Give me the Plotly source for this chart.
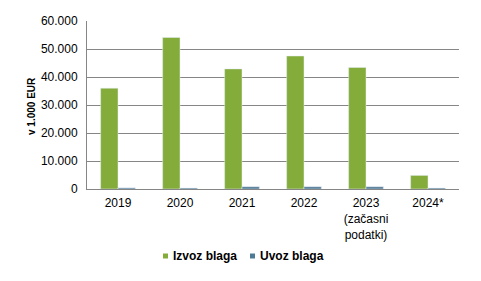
import plotly.graph_objects as go

categories = ["2019", "2020", "2021", "2022", "2023<br>(začasni<br>podatki)", "2024*"]
izvoz = [36000, 54100, 42900, 47500, 43400, 4850]
uvoz = [400, 350, 800, 800, 800, 350]
series_names = ["Izvoz blaga", "Uvoz blaga"]
y_ticks = [0, 10000, 20000, 30000, 40000, 50000, 60000]
y_labels = ["0", "10.000", "20.000", "30.000", "40.000", "50.000", "60.000"]
y_title = "v 1.000 EUR"

GREEN = "#84AC3A"
BLUE = "#4F7A94"
FONT = "Liberation Sans, Arial, sans-serif"

fig = go.Figure()
fig.add_bar(x=categories, y=izvoz, marker_color=GREEN, showlegend=False, name=series_names[0])
fig.add_bar(x=categories, y=uvoz, marker_color=BLUE, showlegend=False, name=series_names[1])

W, H = 481, 281
ml, mr, mt, mb = 87, 22, 21, 92
pw, ph = W - ml - mr, H - mt - mb
def px(x): return (x - ml) / pw
def py(y): return (H - mb - y) / ph

# compact legend (square + label)
legend_items = [(series_names[0], GREEN, 163), (series_names[1], BLUE, 250)]
for name, color, x0 in legend_items:
    fig.add_shape(type="rect", xref="paper", yref="paper",
                  x0=px(x0), x1=px(x0 + 5), y0=py(258.5), y1=py(253.5),
                  fillcolor=color, line_width=0)
    fig.add_annotation(xref="paper", yref="paper", x=px(x0 + 8), y=py(256),
                       xanchor="left", yanchor="middle", showarrow=False,
                       text=f"<b>{name}</b>", font=dict(size=12, color="black"))

# y-axis title
fig.add_annotation(xref="paper", yref="paper", x=px(31), y=py(106),
                   xanchor="center", yanchor="middle", showarrow=False, textangle=-90,
                   text=f"<b>{y_title}</b>", font=dict(size=10, color="black"))

fig.update_layout(
    width=W, height=H,
    margin=dict(l=ml, r=mr, t=mt, b=mb),
    paper_bgcolor="white", plot_bgcolor="white",
    barmode="group", bargap=0.44, bargroupgap=0,
    font=dict(family=FONT, size=12, color="black"),
    showlegend=False,
    xaxis=dict(type="category", showline=True, linecolor="#868686", linewidth=1,
               showgrid=False, ticks="", tickfont=dict(size=12), ticklabelstandoff=3),
    yaxis=dict(range=[0, 60000], tickvals=y_ticks, ticktext=y_labels,
               showline=True, linecolor="#868686", linewidth=1,
               showgrid=True, gridcolor="#868686", gridwidth=1,
               ticks="", zeroline=False, ticklabelstandoff=6),
)

fig.write_html("out.html")
